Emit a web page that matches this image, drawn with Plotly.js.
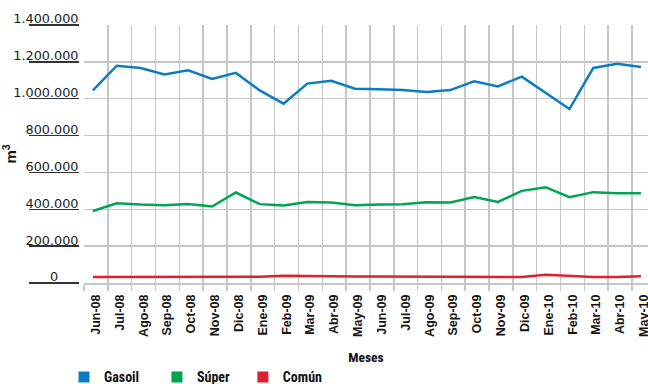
<!DOCTYPE html>
<html>
<head>
<meta charset="utf-8">
<script src="https://cdn.plot.ly/plotly-3.0.1.min.js"></script>
<style>
  html, body { margin: 0; padding: 0; background: #ffffff; }
  #chart { width: 648px; height: 384px; }
</style>
</head>
<body>
<div id="chart"></div>
<script>
// Monthly fuel sales volume (m3), June 2008 - May 2010
const months = ['Jun-08', 'Jul-08', 'Ago-08', 'Sep-08', 'Oct-08', 'Nov-08', 'Dic-08',
  'Ene-09', 'Feb-09', 'Mar-09', 'Abr-09', 'May-09', 'Jun-09', 'Jul-09', 'Ago-09',
  'Sep-09', 'Oct-09', 'Nov-09', 'Dic-09', 'Ene-10', 'Feb-10', 'Mar-10', 'Abr-10', 'May-10'];

const gasoil = [1045000, 1179000, 1167000, 1132000, 1154000, 1107000, 1140000,
  1045000, 973000, 1082000, 1097000, 1054000, 1051000, 1047000, 1036000,
  1047000, 1094000, 1067000, 1120000, 1031000, 944000, 1167000, 1190000, 1172000];

const superFuel = [391000, 433000, 426000, 422000, 429000, 415000, 491000,
  428000, 420000, 440000, 437000, 422000, 426000, 427000, 438000,
  437000, 466000, 440000, 500000, 520000, 466000, 493000, 487000, 487000];

const comun = [33000, 33000, 34000, 35000, 35000, 35000, 35000,
  34000, 39000, 37000, 34000, 35000, 35000, 34000, 33000,
  33000, 32000, 32000, 32000, 45000, 39000, 33000, 33000, 36000];

const seriesNames = ['Gasoil', 'Súper', 'Común'];
const seriesColors = ['#0a7cc4', '#00a551', '#e01f2f'];
const seriesValues = [gasoil, superFuel, comun];

const yTicks = [0, 200000, 400000, 600000, 800000, 1000000, 1200000, 1400000];

// thousands separated with dots; the zero label sits further left
function fmt(v) {
  if (v === 0) return '0' + '\u00a0'.repeat(5);
  return String(v).replace(/\B(?=(\d{3})+(?!\d))/g, '.');
}
const yTickText = yTicks.map(fmt);

const grid = '#c6c6c6';
const narrow = '"Liberation Sans Narrow", "Roboto Condensed", "DejaVu Sans Condensed", "Arial Narrow", sans-serif';
const legendFont = { family: narrow, size: 14, color: '#111111', weight: 'bold' };

const traces = [];
// data lines
seriesValues.forEach((vals, i) => {
  traces.push({
    type: 'scatter', mode: 'lines',
    x: months, y: vals,
    xaxis: 'x2', yaxis: 'y',
    line: { color: seriesColors[i], width: 2.5 },
    showlegend: false, legendgroup: seriesNames[i], hoverinfo: 'x+y'
  });
});
// square legend keys, one legend box per series
const legendIds = ['legend', 'legend2', 'legend3'];
seriesNames.forEach((name, i) => {
  traces.push({
    type: 'scatter', mode: 'markers',
    x: [null], y: [null],
    name: name, legendgroup: name, legend: legendIds[i],
    marker: { symbol: 'square', size: 11, color: seriesColors[i] }
  });
});

function legendBox(x) {
  return {
    orientation: 'h', x: x, xanchor: 'left', y: -0.366, yanchor: 'middle',
    bgcolor: 'rgba(0,0,0,0)', font: legendFont
  };
}

const layout = {
  width: 648, height: 384,
  margin: { l: 79, r: 0, t: 25, b: 101, autoexpand: false },
  paper_bgcolor: '#ffffff', plot_bgcolor: '#ffffff',
  showlegend: true,
  xaxis: {
    type: 'category', categoryorder: 'array', categoryarray: months,
    domain: [5 / 569, 1], range: [-0.5, 23.17],
    tickson: 'boundaries', ticks: 'outside', ticklen: 6, tickwidth: 1.5, tickcolor: grid,
    showgrid: true, gridcolor: grid, gridwidth: 1.5,
    showline: true, linecolor: grid, linewidth: 1.5,
    tickangle: -90, ticklabelshift: 3.5, ticklabelstandoff: 5,
    tickfont: { family: '"Liberation Sans", Arial, sans-serif', size: 12.5, color: '#151515', weight: 'bold' },
    title: { text: 'Meses', standoff: 16, font: { family: narrow, size: 13.5, color: '#111111', weight: 'bold' } },
    fixedrange: true
  },
  xaxis2: {
    type: 'category', categoryorder: 'array', categoryarray: months,
    overlaying: 'x', anchor: 'y', visible: false,
    range: [-0.5 + 0.126, 23.17 + 0.126], fixedrange: true
  },
  yaxis: {
    range: [0, 1400000], anchor: 'free', position: 0,
    tickmode: 'array', tickvals: yTicks, ticktext: yTickText,
    ticks: 'outside', ticklen: 50, tickwidth: 1.5, tickcolor: '#333333',
    ticklabelstandoff: -52, ticklabelshift: -6,
    showgrid: true, gridcolor: grid, gridwidth: 1.5,
    zeroline: false, showline: false,
    tickfont: { family: '"DejaVu Sans", Verdana, sans-serif', size: 12.8, color: '#1a1a1a' },
    title: { text: 'm<sup>3</sup>', standoff: 2, font: { family: '"Liberation Sans", Arial, sans-serif', size: 15, color: '#151515', weight: 'bold' } },
    fixedrange: true
  },
  legend: legendBox(-0.0264),
  legend2: legendBox(0.137),
  legend3: legendBox(0.288)
};

Plotly.newPlot('chart', traces, layout, { displayModeBar: false, staticPlot: true });
</script>
</body>
</html>
